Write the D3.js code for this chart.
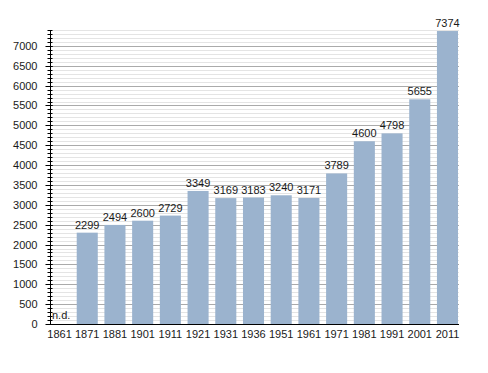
<!DOCTYPE html>
<html>
<head>
<meta charset="utf-8">
<script src="https://cdn.jsdelivr.net/npm/d3@7"></script>
<style>
  body { margin: 0; background: #fff; }
  text { font-family: "Liberation Sans", Arial, sans-serif; }
</style>
</head>
<body>
<div id="chart"></div>
<script>
// anni del censimento e popolazione
const anni = ["1861", "1871", "1881", "1901", "1911", "1921", "1931", "1936", "1951", "1961", "1971", "1981", "1991", "2001", "2011"];
const abitanti = [null, 2299, 2494, 2600, 2729, 3349, 3169, 3183, 3240, 3171, 3789, 4600, 4798, 5655, 7374];
const tickY = [0, 500, 1000, 1500, 2000, 2500, 3000, 3500, 4000, 4500, 5000, 5500, 6000, 6500, 7000];

const width = 488, height = 373;
const margin = { top: 30, right: 30, bottom: 49, left: 50 };

const svg = d3.select("#chart").append("svg")
    .attr("width", width)
    .attr("height", height);

const x = d3.scaleBand()
    .domain(anni)
    .range([49, 458])
    .paddingInner(0.24)
    .paddingOuter(0);

const y = d3.scaleLinear()
    .domain([0, 7400])
    .range([height - margin.bottom, margin.top]);

// griglia: linee sottili ogni 100, più scure ogni 500
const minori = d3.range(100, 7500, 100).filter(v => v % 500 != 0);
svg.append("g").selectAll("line")
    .data(minori)
    .enter().append("line")
    .attr("x1", margin.left).attr("x2", 459)
    .attr("y1", d => Math.round(y(d)) + 0.5).attr("y2", d => Math.round(y(d)) + 0.5)
    .attr("stroke", "#e4e4e4");

svg.append("g").selectAll("line")
    .data(tickY.filter(v => v > 0))
    .enter().append("line")
    .attr("x1", margin.left).attr("x2", 459)
    .attr("y1", d => Math.round(y(d)) + 0.5).attr("y2", d => Math.round(y(d)) + 0.5)
    .attr("stroke", "#aaaaaa");

const righe = anni.map((a, i) => ({ anno: a, val: abitanti[i] }));

// barre
svg.append("g").selectAll("rect")
    .data(righe.filter(d => d.val != null))
    .enter().append("rect")
    .attr("x", d => x(d.anno))
    .attr("width", x.bandwidth())
    .attr("y", d => y(d.val))
    .attr("height", d => y(0) - y(d.val))
    .attr("fill", "#9bb3ce");

// etichette valori
svg.append("g").selectAll("text")
    .data(righe)
    .enter().append("text")
    .attr("x", d => d.val == null ? x(d.anno) + 3 : x(d.anno) + x.bandwidth() / 2)
    .attr("y", d => d.val == null ? y(0) - 5 : y(d.val) - 4)
    .attr("text-anchor", d => d.val == null ? "start" : "middle")
    .attr("font-size", "11px")
    .attr("fill", "#1a1a1a")
    .text(d => d.val == null ? "n.d." : d.val);

// asse y con tacche minori
const yAxis = svg.append("g")
    .attr("transform", "translate(" + (margin.left + 0.5) + ",0)");
yAxis.selectAll("line.min")
    .data(d3.range(0, 7500, 100))
    .enter().append("line")
    .attr("x1", -3).attr("x2", 2)
    .attr("y1", d => Math.round(y(d)) + 0.5).attr("y2", d => Math.round(y(d)) + 0.5)
    .attr("stroke", "#000");
yAxis.selectAll("line.mag")
    .data(tickY)
    .enter().append("line")
    .attr("x1", -5).attr("x2", 2)
    .attr("y1", d => Math.round(y(d)) + 0.5).attr("y2", d => Math.round(y(d)) + 0.5)
    .attr("stroke", "#000");
yAxis.append("line")
    .attr("y1", y(7400)).attr("y2", y(0))
    .attr("stroke", "#000");
yAxis.selectAll("text")
    .data(tickY)
    .enter().append("text")
    .attr("x", -13)
    .attr("y", d => y(d) + 4)
    .attr("text-anchor", "end")
    .attr("font-size", "11px")
    .attr("fill", "#1a1a1a")
    .text(d => d);

// asse x
svg.append("line")
    .attr("x1", margin.left).attr("x2", 459)
    .attr("y1", y(0) + 0.5).attr("y2", y(0) + 0.5)
    .attr("stroke", "#000");
svg.append("g").selectAll("text")
    .data(anni)
    .enter().append("text")
    .attr("x", d => x(d) + x.bandwidth() / 2)
    .attr("y", y(0) + 14)
    .attr("text-anchor", "middle")
    .attr("font-size", "11px")
    .attr("fill", "#1a1a1a")
    .text(d => d);
</script>
</body>
</html>
